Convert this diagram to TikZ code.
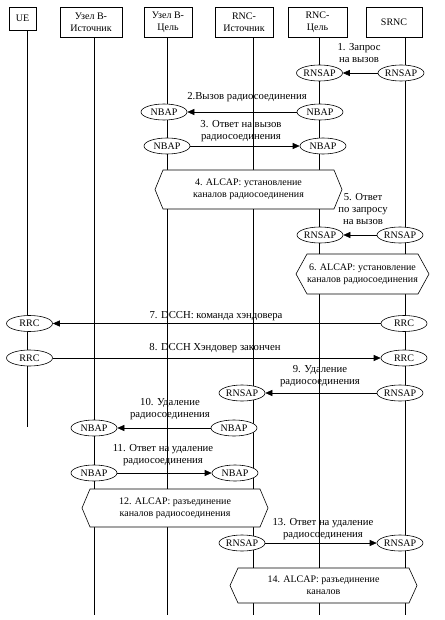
\documentclass[tikz,border=0pt]{standalone}
\usepackage{fontspec}
\setmainfont{Liberation Serif}
\usetikzlibrary{arrows.meta,shapes.geometric}
\newcommand\hexa[7]{%
  \path[hexline] (#2-#4/2,#3) -- (#2-#4/2+#7,#3-#5/2) -- (#2+#4/2-#7,#3-#5/2) -- (#2+#4/2,#3)
     -- (#2+#4/2-#7,#3+#5/2) -- (#2-#4/2+#7,#3+#5/2) -- cycle;
  \node[msg] (#1) at (#2,#3) {#6};}
\begin{document}
\begin{tikzpicture}[x=1pt,y=-1pt,
  every node/.style={font=\fontsize{10}{11.6}\selectfont},
  hdr/.style={draw, line width=0.6pt, align=center, inner sep=0pt, minimum height=30pt},
  life/.style={line width=0.6pt},
  proto/.style={draw, ellipse, fill=white, line width=0.6pt, minimum width=46pt, minimum height=16pt, inner sep=0pt},
  msg/.style={align=center, inner sep=0pt},
  lbl/.style={msg, font=\fontsize{10.7}{12}\selectfont},
  arr/.style={line width=0.6pt, -{Triangle[length=7pt,width=6pt]}},
  hexline/.style={draw, fill=white, line width=0.6pt}]
\useasboundingbox (0,0) rectangle (444,620);
% headers
\node[hdr, minimum width=27pt, minimum height=23pt] (ue) at (22.5,18.5) {UE};
\node[hdr, minimum width=62pt] (nbs) at (91,22) {Узел В-\\Источник};
\node[hdr, minimum width=48pt] (nbt) at (168,22) {Узел В-\\Цель};
\node[hdr, minimum width=58pt] (rncs) at (244,22) {RNC-\\Источник};
\node[hdr, minimum width=59pt] (rnct) at (317.5,22) {RNC-\\Цель};
\node[hdr, minimum width=56pt] (srnc) at (394,22) {SRNC};
% lifeline ends
\coordinate (ueE) at (27,427);
\coordinate (nbsE) at (94,615);
\coordinate (nbtE) at (167,615);
\coordinate (rncsE) at (253,615);
\coordinate (rnctE) at (319,615);
\coordinate (srncE) at (405,615);
\draw[life] (ue.south -| ueE) -- (ueE);
\draw[life] (nbs.south -| nbsE) -- (nbsE);
\draw[life] (nbt.south -| nbtE) -- (nbtE);
\draw[life] (rncs.south -| rncsE) -- (rncsE);
\draw[life] (rnct.south -| rnctE) -- (rnctE);
\draw[life] (srnc.south -| srncE) -- (srncE);
% hexagons
\hexa{h4}{248.5}{189.5}{187}{39}{4. ALCAP: установление\\каналов радиосоединения}{8}
\hexa{h6}{362.5}{274}{133}{40}{6. ALCAP: установление\\каналов радиосоединения}{11}
\hexa{h12}{175}{508}{186}{38}{12. ALCAP: разъединение\\каналов радиосоединения}{8}
\hexa{h14}{323.5}{585.5}{187}{35}{14. ALCAP: разъединение\\каналов}{8}
% protocol ellipses
\node[proto] (r1t) at (319.5,73) {RNSAP};
\node[proto] (r1s) at (401,73) {RNSAP};
\node[proto] (n2t) at (164,112) {NBAP};
\node[proto] (n2s) at (320,112) {NBAP};
\node[proto] (n3s) at (167,146) {NBAP};
\node[proto] (n3t) at (323,146) {NBAP};
\node[proto] (r5t) at (320,235) {RNSAP};
\node[proto] (r5s) at (400,235) {RNSAP};
\node[proto] (c7u) at (29.5,323.5) {RRC};
\node[proto] (c7s) at (404,323.5) {RRC};
\node[proto] (c8u) at (29.5,358) {RRC};
\node[proto] (c8s) at (404,358) {RRC};
\node[proto] (r9t) at (242,393) {RNSAP};
\node[proto] (r9s) at (400,393) {RNSAP};
\node[proto] (n10t) at (94,428) {NBAP};
\node[proto] (n10s) at (234,428) {NBAP};
\node[proto] (n11s) at (94,473) {NBAP};
\node[proto] (n11t) at (235,473) {NBAP};
\node[proto] (r13s) at (242,543) {RNSAP};
\node[proto] (r13t) at (400,543) {RNSAP};
% messages
\draw[arr] (r1s) -- (r1t);
\draw[arr] (n2s) -- (n2t);
\draw[arr] (n3s) -- (n3t);
\draw[arr] (r5s) -- (r5t);
\draw[arr] (c7s) -- (c7u);
\draw[arr] (c8u) -- (c8s);
\draw[arr] (r9s) -- (r9t);
\draw[arr] (n10s) -- (n10t);
\draw[arr] (n11s) -- (n11t);
\draw[arr] (r13s) -- (r13t);
% labels
\node[lbl] (m1) at (359,53.5) {1. Запрос\\на вызов};
\node[lbl] (m2) at (247,97) {2.Вызов радиосоединения};
\node[lbl] (m3) at (241,131) {3. Ответ на вызов\\радиосоединения};
\node[lbl] (m5) at (363,209) {5. Ответ\\по запросу\\на вызов};
\node[lbl] (m7) at (216,316.5) {7. DCCH: команда хэндовера};
\node[lbl] (m8) at (215,348) {8. DCCH Хэндовер закончен};
\node[lbl] (m9) at (320,376.5) {9. Удаление\\радиосоединения};
\node[lbl] (m10) at (170,409) {10. Удаление\\радиосоединения};
\node[lbl] (m11) at (163,455) {11. Ответ на удаление\\радиосоединения};
\node[lbl] (m13) at (323,529) {13. Ответ на удаление\\радиосоединения};
\end{tikzpicture}
\end{document}
